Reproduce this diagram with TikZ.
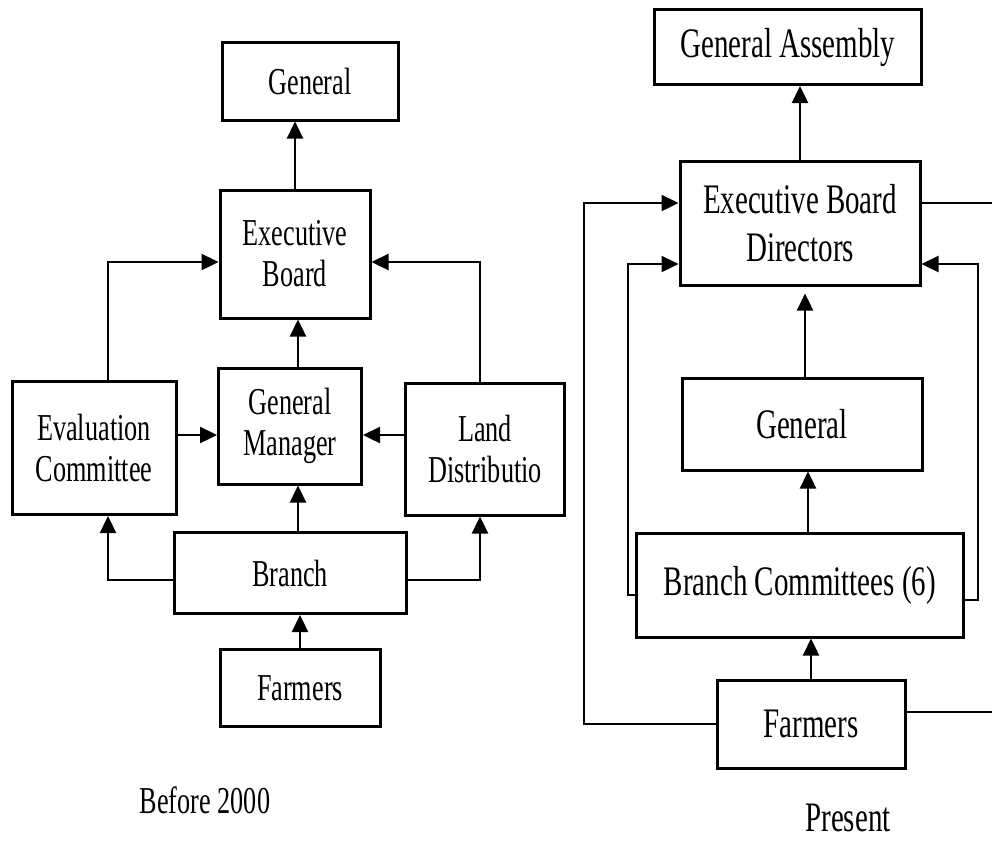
\documentclass[tikz,border=0pt]{standalone}
\usepackage{fontspec}
\setmainfont{Liberation Serif}[FakeStretch=0.69]
\usetikzlibrary{arrows.meta, calc}

\begin{document}
\begin{tikzpicture}[x=1pt, y=-1pt,
  box/.style={draw, line width=3pt, inner sep=0pt, align=center},
  lt/.style={font=\fontsize{38}{41}\selectfont},
  rt/.style={font=\fontsize{42}{48}\selectfont},
  arrow/.style={line width=2.4pt, -{Triangle[length=17pt, width=16pt]}},
  line/.style={line width=2.4pt}]
\clip (0,0) rectangle (992,844);

% Before 2000
\node[box, lt, minimum width=176pt, minimum height=78pt] (gen) at (310,81) {General};
\node[box, lt, minimum width=150pt, minimum height=128pt] (exec) at (295,254) {Executive\\Board};
\node[box, lt, minimum width=164pt, minimum height=133pt] (eval) at (94,448) {Evaluation\\Committee};
\node[box, lt, minimum width=143pt, minimum height=116pt] (gm) at (290,426) {General\\Manager};
\node[box, lt, minimum width=159pt, minimum height=132pt] (land) at (485,449) {Land\\Distributio};
\node[box, lt, minimum width=232pt, minimum height=81pt] (branch) at (290,573) {Branch};
\node[box, lt, minimum width=160pt, minimum height=77pt] (farm) at (300,688) {Farmers};

\draw[arrow] (exec.north) -- (exec.north |- gen.south);
\draw[arrow] ([xshift=8pt]gm.north) -- ([xshift=8pt]gm.north |- exec.south);
\draw[arrow] ([xshift=8pt]branch.north) -- ([xshift=8pt]branch.north |- gm.south);
\draw[arrow] (farm.north) -- (farm.north |- branch.south);
\draw[arrow] ([xshift=14pt]eval.north) |- ([yshift=-8pt]exec.west);
\draw[arrow] ([xshift=-5pt]land.north) |- ([yshift=-8pt]exec.east);
\draw[arrow] ([yshift=13pt]eval.east) -- ([yshift=13pt]eval.east -| gm.west);
\draw[arrow] ([yshift=14pt]land.west) -- ([yshift=14pt]land.west -| gm.east);
\draw[arrow] ([yshift=-7pt]branch.west) -| ([xshift=14pt]eval.south);
\draw[arrow] ([yshift=-7pt]branch.east) -| ([xshift=-5pt]land.south);

\node[lt] (before) at (205,800) {Before 2000};

% Present
\node[box, rt, minimum width=267pt, minimum height=75pt] (ga) at (788,47) {General Assembly};
\node[box, rt, minimum width=240pt, minimum height=124pt] (ebd) at (800,223) {Executive Board\\Directors};
\node[box, rt, minimum width=240pt, minimum height=92pt] (rgen) at (802,424) {General};
\node[box, rt, minimum width=327pt, minimum height=104pt] (bc) at (800,585) {Branch Committees (6)};
\node[box, rt, minimum width=188pt, minimum height=88pt] (rfarm) at (811,724) {Farmers};

\coordinate (outl) at (584,203);
\coordinate (inl) at (628,264);
\coordinate (inr) at (978,264);
\coordinate (outr) at (1005,203);

\draw[arrow] (ebd.north) -- (ebd.north |- ga.south);
\draw[arrow, shorten >=7pt] ([xshift=3pt]rgen.north) -- ([xshift=3pt]rgen.north |- ebd.south);
\draw[arrow] ([xshift=8pt]bc.north) -- ([xshift=8pt]bc.north |- rgen.south);
\draw[arrow] (rfarm.north) -- (rfarm.north |- bc.south);
\draw[arrow] (rfarm.west) -| (outl) -- (outl -| ebd.west);
\draw[arrow] ([yshift=-10pt]bc.west) -| (inl) -- (inl -| ebd.west);
\draw[arrow] ([yshift=-15pt]bc.east) -| (inr) -- (inr -| ebd.east);
\draw[line] (outr -| ebd.east) -- (outr) |- ([yshift=12pt]rfarm.east);

\node[rt] (present) at (848,818) {Present};
\end{tikzpicture}
\end{document}
